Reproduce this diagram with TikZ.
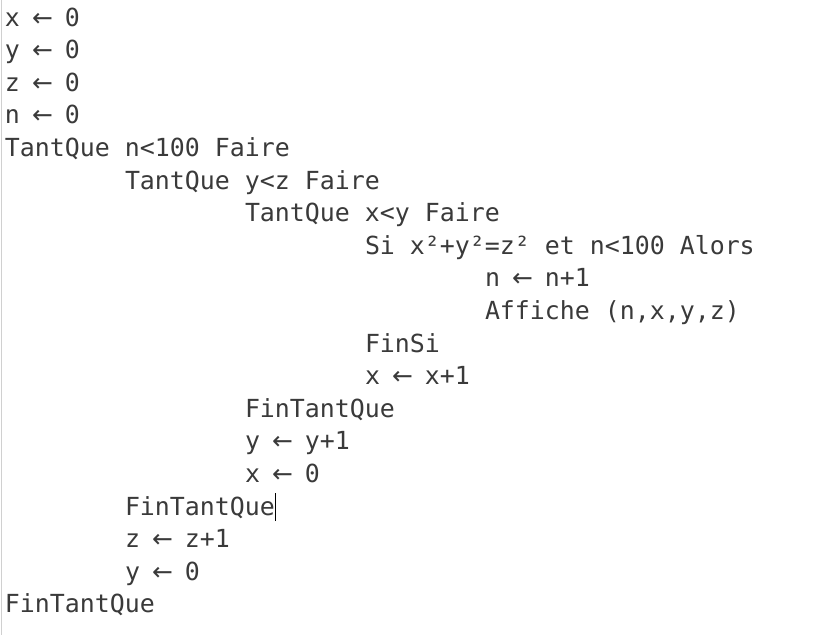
\documentclass[tikz,border=0pt]{standalone}
\usepackage{fontspec}
\setmonofont{DejaVu Sans Mono}
\newfontfamily\arrowfont{DejaVu Sans}
\newcommand{\arr}{\makebox[0.602em][c]{\arrowfont ←}}
\definecolor{txt}{HTML}{3A3A3A}
\definecolor{edge}{HTML}{D0D0D0}
\tikzset{
  codeline/.style={anchor=base west, inner sep=0pt, outer sep=0pt, text=txt,
    font=\fontsize{24.9pt}{30pt}\selectfont\ttfamily}
}
\begin{document}
\begin{tikzpicture}[x=1pt,y=1pt]
\useasboundingbox (0,0) rectangle (817,-635);
\fill[white] (0,0) rectangle (817,-635);
\draw[edge, line width=1pt] (1,0) -- (1,-635);
\def\lh{32.6}
\node[codeline] (l1)  at (5,{-26-0*\lh}) {x \arr{} 0};
\node[codeline] (l2)  at (5,{-26-1*\lh}) {y \arr{} 0};
\node[codeline] (l3)  at (5,{-26-2*\lh}) {z \arr{} 0};
\node[codeline] (l4)  at (5,{-26-3*\lh}) {n \arr{} 0};
\node[codeline] (l5)  at (5,{-26-4*\lh}) {TantQue n<100 Faire};
\node[codeline] (l6)  at (125,{-26-5*\lh}) {TantQue y<z Faire};
\node[codeline] (l7)  at (245,{-26-6*\lh}) {TantQue x<y Faire};
\node[codeline] (l8)  at (365,{-26-7*\lh}) {Si x²+y²=z² et n<100 Alors};
\node[codeline] (l9)  at (485,{-26-8*\lh}) {n \arr{} n+1};
\node[codeline] (l10) at (485,{-26-9*\lh}) {Affiche (n,x,y,z)};
\node[codeline] (l11) at (365,{-26-10*\lh}) {FinSi};
\node[codeline] (l12) at (365,{-26-11*\lh}) {x \arr{} x+1};
\node[codeline] (l13) at (245,{-26-12*\lh}) {FinTantQue};
\node[codeline] (l14) at (245,{-26-13*\lh}) {y \arr{} y+1};
\node[codeline] (l15) at (245,{-26-14*\lh}) {x \arr{} 0};
\node[codeline] (l16) at (125,{-26-15*\lh}) {FinTantQue};
\node[codeline] (l17) at (125,{-26-16*\lh}) {z \arr{} z+1};
\node[codeline] (l18) at (125,{-26-17*\lh}) {y \arr{} 0};
\node[codeline] (l19) at (5,{-26-18*\lh}) {FinTantQue};
\coordinate (cur) at (l16.base east);
\draw[black, line width=1.2pt] ([xshift=0.5pt,yshift=-6pt]cur) -- ([xshift=0.5pt,yshift=22pt]cur);
\end{tikzpicture}
\end{document}
